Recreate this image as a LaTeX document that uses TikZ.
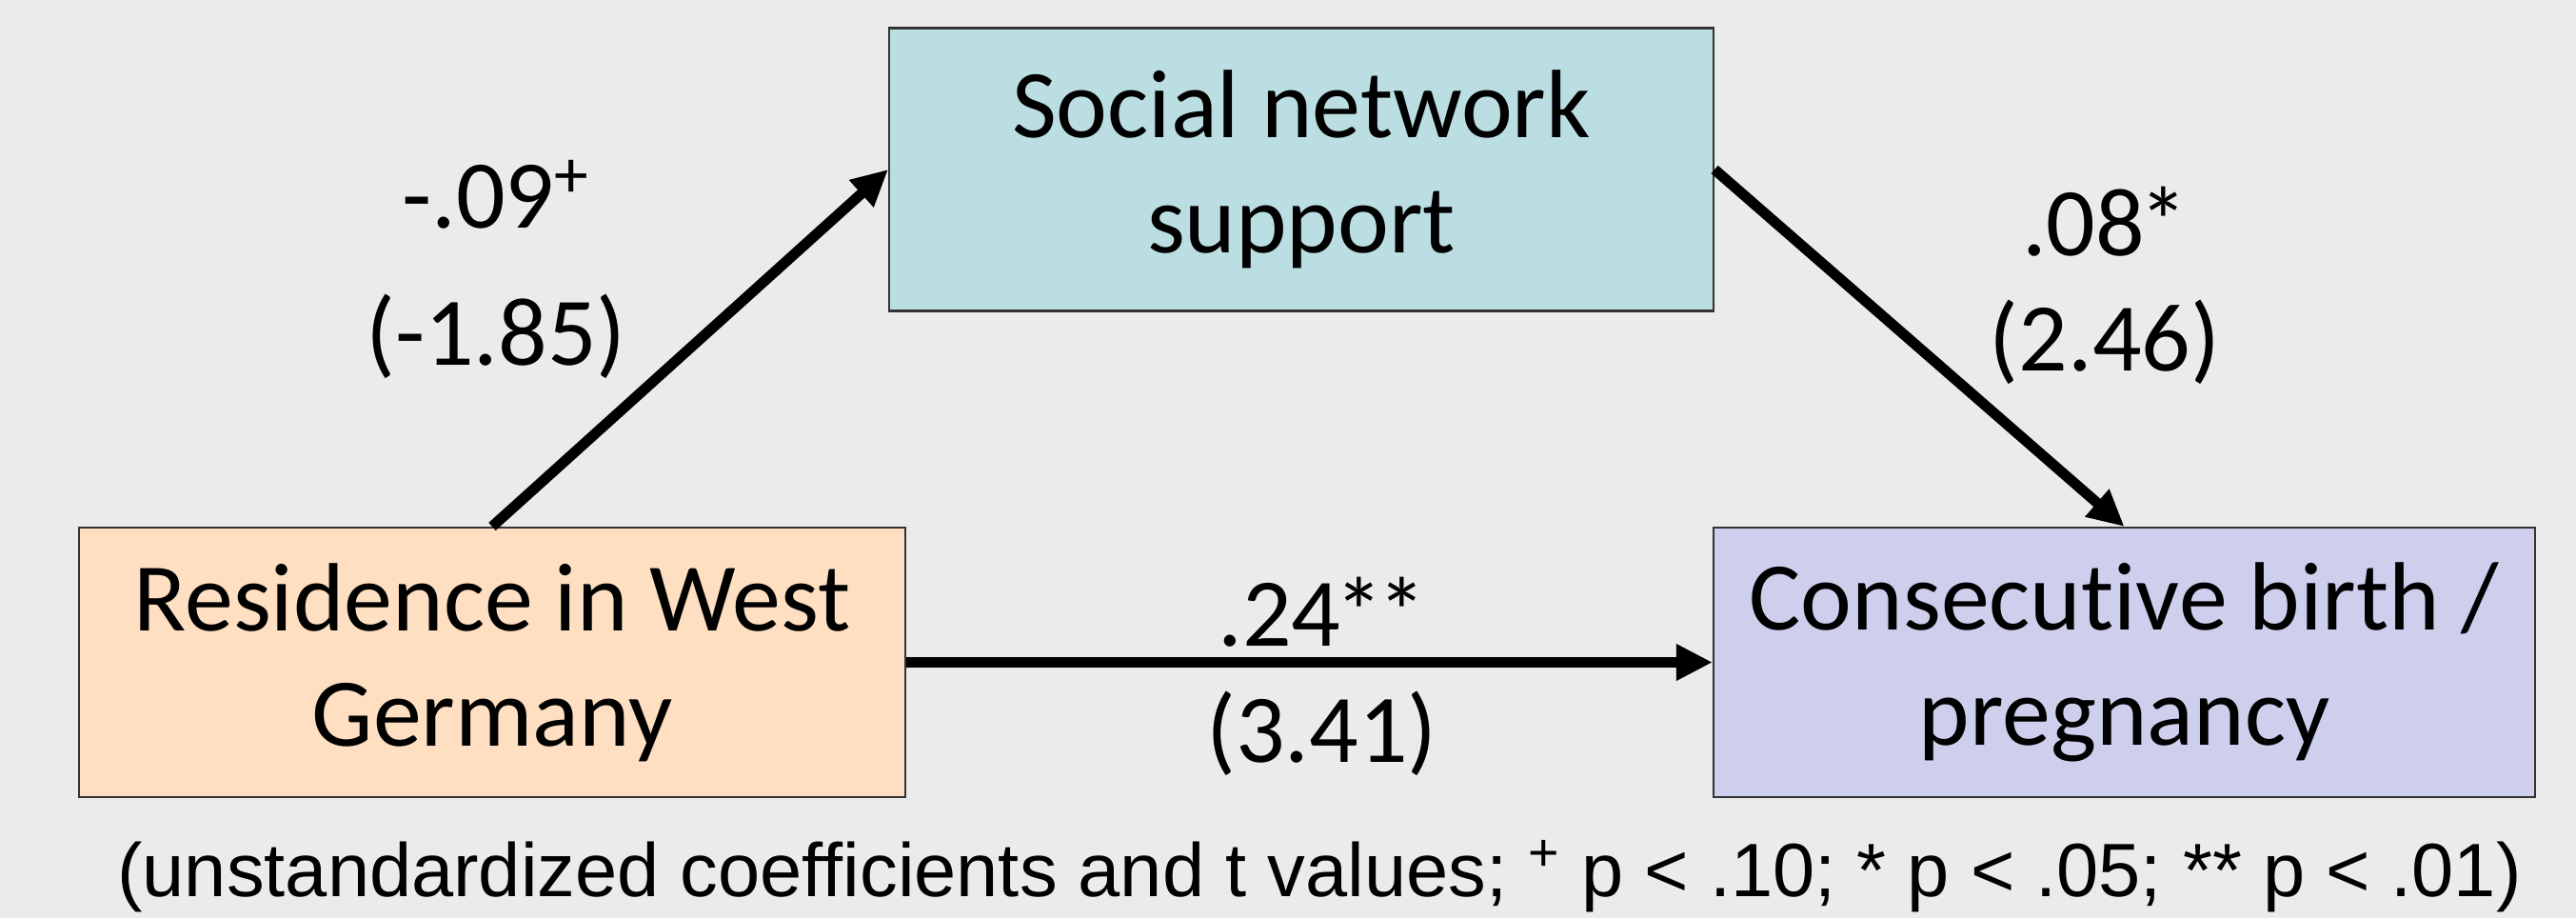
\documentclass[tikz,border=0pt]{standalone}
\usepackage{fontspec}
\setmainfont{Carlito}[Ligatures=NoCommon]
\newfontfamily\notefont{Liberation Sans}
\usetikzlibrary{arrows.meta}
\definecolor{bggray}{RGB}{235,235,235}
\definecolor{socialblue}{RGB}{187,222,226}
\definecolor{westpeach}{RGB}{255,223,193}
\definecolor{birthlilac}{RGB}{205,207,237}
\tikzstyle{var}=[draw=black!80, line width=0.6pt, inner sep=0pt, align=center, font=\fontsize{29}{34.5}\selectfont, minimum height=2.83cm]
\tikzstyle{coef}=[align=center, font=\fontsize{29}{34.5}\selectfont]
\tikzstyle{link}=[line width=0.11cm, -{Triangle[length=0.38cm,width=0.36cm]}]
\newcommand{\sig}{\kern-0.06em*}

\begin{document}
\begin{tikzpicture}
        \useasboundingbox (0,0) rectangle (27.06,9.64);
        \fill[bggray] (0,0) rectangle (27.06,9.64);
        % the three variables
        \node[var, fill=socialblue, minimum width=8.66cm, minimum height=2.97cm] (social) at (13.67,7.86) {Social network\\support};
        \node[var, fill=westpeach, minimum width=8.68cm] (west) at (5.17,2.685) {Residence in West\\Germany};
        \node[var, fill=birthlilac, minimum width=8.63cm] (birth) at (22.315,2.685) {Consecutive birth /\\pregnancy};
        % paths
        \draw[link] (west.north) -- (social.west);
        \draw[link] (social.east) -- (birth.north);
        \draw[link] (west.east) -- (birth.west);
        \node[coef, font=\fontsize{29}{41}\selectfont] (coefa) at (5.21,6.81) {-.09\textsuperscript{+}\\(-1.85)};
        \node[coef] (coefb) at (22.11,6.64) {.08\sig\\(2.46)};
        \node[coef] (coefc) at (13.885,2.535) {.24\sig\sig\\(3.41)};
        \node[anchor=base, font=\notefont\fontsize{22.6}{27}\selectfont] (note) at (13.86,0.23) {(unstandardized coefficients and t values; \textsuperscript{+} p < .10; * p < .05; ** p < .01)};
    \end{tikzpicture}
\end{document}
